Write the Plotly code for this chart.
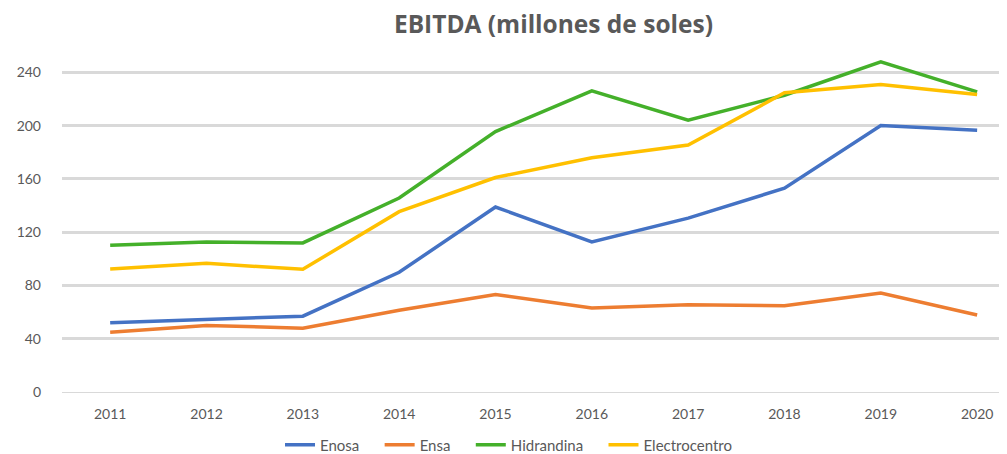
import plotly.graph_objects as go

years = ["2011", "2012", "2013", "2014", "2015", "2016", "2017", "2018", "2019", "2020"]
enosa = [52.0, 54.5, 56.9, 89.9, 138.9, 112.7, 130.5, 153.0, 200.1, 196.6]
ensa = [44.9, 50.0, 47.9, 61.4, 73.2, 63.1, 65.5, 64.8, 74.3, 57.8]
hidrandina = [110.1, 112.7, 111.9, 145.6, 195.5, 226.1, 204.1, 222.8, 247.8, 225.3]
electrocentro = [92.4, 96.6, 92.1, 135.4, 161.0, 175.9, 185.4, 224.6, 230.9, 223.4]

series = [
    ("Enosa", enosa, "#4472C4"),
    ("Ensa", ensa, "#ED7D31"),
    ("Hidrandina", hidrandina, "#44B02A"),
    ("Electrocentro", electrocentro, "#FFC000"),
]

pad = "\u00a0" * 4
fig = go.Figure()
for name, vals, color in series:
    fig.add_trace(go.Scatter(x=years, y=vals, name=name + pad, mode="lines",
                             line=dict(color=color, width=3.5)))

# page body adds an 8px margin; figure is sized to fit the 1007x454 window
fig.update_layout(
    width=999, height=446,
    margin=dict(l=54, r=0, t=51, b=62, autoexpand=False),
    paper_bgcolor="white", plot_bgcolor="white",
    title=dict(text="<b>EBITDA (millones de soles)</b>", x=0.546, xanchor="center",
               y=0.963, yanchor="middle",
               font=dict(family="Open Sans", size=24.5, color="#595959")),
    font=dict(family="Lato", color="#595959"),
    xaxis=dict(type="category", range=[-0.5, 9.31], showgrid=False,
               showline=False, zeroline=False, ticks="",
               tickfont=dict(size=14, color="#595959"), ticklabelstandoff=12),
    yaxis=dict(range=[0, 250], tickvals=[0, 40, 80, 120, 160, 200, 240],
               showgrid=True, gridcolor="#d9d9d9", gridwidth=2.5,
               zeroline=True, zerolinecolor="#d9d9d9", zerolinewidth=1,
               showline=False, ticks="",
               tickfont=dict(size=14, color="#595959"), ticklabelstandoff=20),
    legend=dict(orientation="h", x=0.2307, xanchor="left", y=-0.159, yanchor="middle",
                font=dict(size=15, color="#595959"),
                traceorder="normal"),
    showlegend=True,
)

fig.write_html("out.html")
